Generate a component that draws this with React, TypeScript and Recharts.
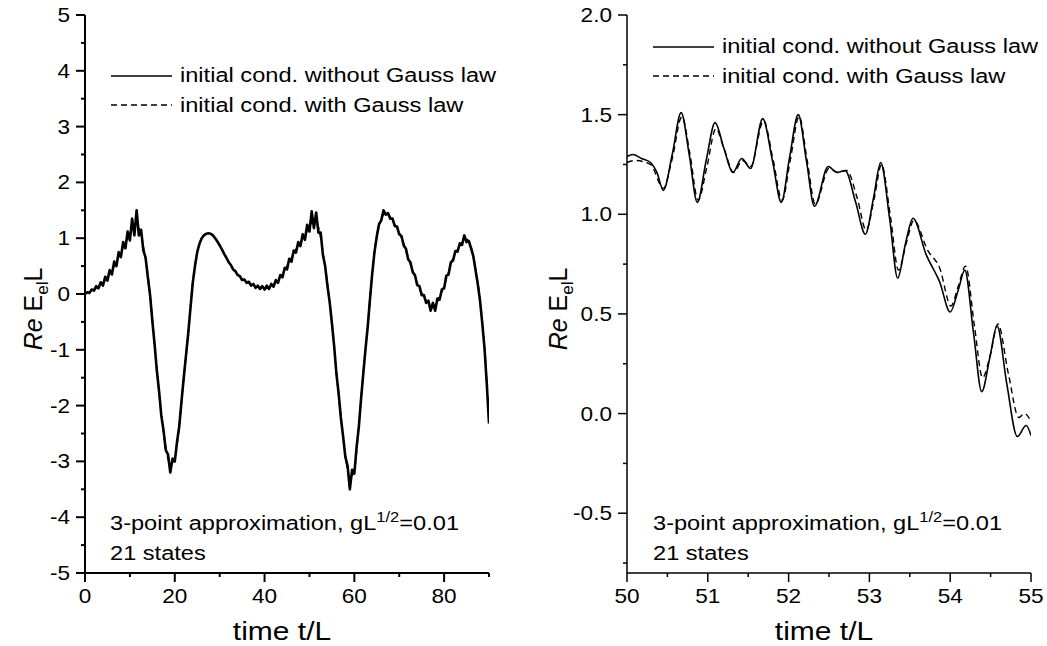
import React from 'react';
import { LineChart, Line, XAxis, YAxis, Legend } from 'recharts';

const FONT = '"Liberation Sans", Arial, Helvetica, sans-serif';

const NAME_NO_GAUSS = 'initial cond. without Gauss law';
const NAME_GAUSS = 'initial cond. with Gauss law';

// ---------- Left panel data (t = 0..90) ----------
const leftStepNoGauss = 0.5;
const leftNoGauss = [
  0.00, 0.03, 0.02, 0.08, 0.06, 0.14, 0.10, 0.21, 0.15, 0.31,
  0.24, 0.43, 0.35, 0.58, 0.50, 0.75, 0.66, 0.93, 0.82, 1.12,
  0.96, 1.35, 1.05, 1.50, 1.05, 1.15, 0.78, 0.65, 0.30, -0.02,
  -0.48, -0.90, -1.37, -1.74, -2.18, -2.45, -2.80, -2.88, -3.20, -2.95,
  -3.00, -2.65, -2.37, -1.92, -1.50, -1.10, -0.70, -0.25, 0.20, 0.50,
  0.75, 0.90, 1.00, 1.05, 1.08, 1.09, 1.08, 1.05, 1.00, 0.94,
  0.87, 0.80, 0.72, 0.65, 0.57, 0.52, 0.44, 0.41, 0.34, 0.32,
  0.25, 0.26, 0.20, 0.22, 0.15, 0.18, 0.11, 0.15, 0.09, 0.14,
  0.08, 0.15, 0.09, 0.18, 0.13, 0.25, 0.20, 0.34, 0.30, 0.47,
  0.44, 0.63, 0.58, 0.78, 0.74, 0.93, 0.86, 1.07, 0.97, 1.24,
  1.12, 1.48, 1.18, 1.46, 1.10, 1.10, 0.70, 0.50, 0.15, -0.14,
  -0.52, -0.93, -1.42, -1.78, -2.22, -2.55, -2.92, -3.08, -3.50, -3.15,
  -3.22, -2.75, -2.38, -1.88, -1.42, -0.98, -0.57, -0.08, 0.38, 0.76,
  1.03, 1.25, 1.32, 1.50, 1.42, 1.45, 1.35, 1.35, 1.22, 1.21,
  1.07, 1.04, 0.87, 0.81, 0.62, 0.57, 0.39, 0.34, 0.16, 0.14,
  -0.02, -0.02, -0.16, -0.12, -0.30, -0.16, -0.30, -0.08, -0.10, 0.08,
  0.10, 0.33, 0.35, 0.57, 0.60, 0.77, 0.76, 0.91, 0.88, 1.05,
  0.93, 0.95, 0.82, 0.68, 0.43, 0.18, -0.12, -0.52, -0.97, -1.60,
  -2.32,
];
const leftStepGauss = 1;
const leftGauss = [
  0, 0.03, 0.08, 0.13, 0.2, 0.3, 0.42, 0.58, 0.75, 0.92,
  1.08, 1.2, 1.18, 0.85, 0.35, -0.45, -1.35, -2.15, -2.75, -3.05,
  -2.95, -2.35, -1.5, -0.7, 0.2, 0.75, 1.0, 1.08, 1.08, 1.0,
  0.88, 0.72, 0.58, 0.45, 0.35, 0.27, 0.22, 0.17, 0.13, 0.11,
  0.1, 0.12, 0.17, 0.25, 0.35, 0.5, 0.65, 0.8, 0.92, 1.05,
  1.22, 1.3, 1.2, 0.75, 0.2, -0.5, -1.4, -2.2, -2.9, -3.3,
  -3.15, -2.35, -1.4, -0.55, 0.4, 1.05, 1.35, 1.45, 1.38, 1.25,
  1.1, 0.9, 0.65, 0.42, 0.2, 0.02, -0.12, -0.22, -0.2, -0.05,
  0.15, 0.4, 0.65, 0.8, 0.92, 0.98, 0.85, 0.45, -0.1, -0.95,
  -2.3,
];
const leftXTicks = [0, 10, 20, 30, 40, 50, 60, 70, 80, 90];
const leftXMajor = [0, 20, 40, 60, 80];
const leftYTicks = [-5, -4.5, -4, -3.5, -3, -2.5, -2, -1.5, -1, -0.5, 0, 0.5, 1, 1.5, 2, 2.5, 3, 3.5, 4, 4.5, 5];
const leftYMajor = [-5, -4, -3, -2, -1, 0, 1, 2, 3, 4, 5];

// ---------- Right panel data (t = 50..55) ----------
const rightNoGaussT = [
  50.0, 50.07, 50.18, 50.29, 50.37, 50.45, 50.56, 50.67, 50.77, 50.87,
  50.98, 51.09, 51.2, 51.31, 51.42, 51.53, 51.68, 51.8, 51.91, 52.01,
  52.12, 52.22, 52.32, 52.49, 52.6, 52.7, 52.83, 52.95, 53.05, 53.14,
  53.25, 53.35, 53.45, 53.54, 53.7, 53.87, 54.0, 54.1, 54.18, 54.29,
  54.39, 54.49, 54.58, 54.7, 54.83, 54.94, 55.0,
];
const rightNoGaussV = [
  1.29, 1.30, 1.28, 1.26, 1.21, 1.12, 1.30, 1.51, 1.30, 1.06,
  1.27, 1.46, 1.33, 1.21, 1.28, 1.23, 1.48, 1.27, 1.06, 1.28,
  1.50, 1.27, 1.04, 1.24, 1.21, 1.22, 1.06, 0.90, 1.08, 1.26,
  0.98, 0.68, 0.86, 0.98, 0.80, 0.66, 0.51, 0.62, 0.72, 0.40,
  0.11, 0.28, 0.44, 0.15, -0.115, -0.06, -0.11,
];
const rightGaussT = [
  50.0, 50.1, 50.29, 50.45, 50.56, 50.68, 50.78, 50.88, 50.99, 51.1,
  51.2, 51.32, 51.43, 51.53, 51.69, 51.81, 51.92, 52.02, 52.13, 52.23,
  52.33, 52.5, 52.61, 52.72, 52.85, 52.96, 53.06, 53.15, 53.26, 53.36,
  53.46, 53.55, 53.72, 53.87, 54.01, 54.1, 54.19, 54.3, 54.4, 54.5,
  54.59, 54.72, 54.85, 54.92, 55.0,
];
const rightGaussV = [
  1.26, 1.27, 1.25, 1.13, 1.28, 1.49, 1.30, 1.07, 1.24, 1.43,
  1.33, 1.21, 1.27, 1.24, 1.47, 1.27, 1.07, 1.27, 1.49, 1.27,
  1.05, 1.23, 1.21, 1.22, 1.08, 0.92, 1.08, 1.25, 0.99, 0.72,
  0.86, 0.97, 0.82, 0.73, 0.54, 0.64, 0.74, 0.44, 0.18, 0.30,
  0.45, 0.20, -0.02, 0.00, -0.04,
];
const rightXTicks = [50, 50.5, 51, 51.5, 52, 52.5, 53, 53.5, 54, 54.5, 55];
const rightXMajor = [50, 51, 52, 53, 54, 55];
const rightYTicks = [-0.75, -0.5, -0.25, 0, 0.25, 0.5, 0.75, 1, 1.25, 1.5, 1.75, 2];
const rightYMajor = [-0.5, 0, 0.5, 1, 1.5, 2];

const leftSolidData = leftNoGauss.map((v, i) => ({ t: i * leftStepNoGauss, v }));
const leftDashData = leftGauss.map((v, i) => ({ t: i * leftStepGauss, v }));
const rightSolidData = rightNoGaussT.map((t, i) => ({ t, v: rightNoGaussV[i] }));
const rightDashData = rightGaussT.map((t, i) => ({ t, v: rightGaussV[i] }));

const isIn = (arr: number[], v: number) => arr.some((m) => Math.abs(m - v) < 1e-9);

const makeXTick = (majors: number[], fmt: (v: number) => string, sw: number) => (props: any) => {
  const { x, y, payload } = props;
  const major = isIn(majors, payload.value);
  return (
    <g>
      <line x1={x} y1={y} x2={x} y2={y + (major ? 9 : 4)} stroke="#000" strokeWidth={sw} />
      {major && (
        <text transform={`translate(${x},${y + 30}) scale(1.13,1)`} textAnchor="middle" fontSize={20} fontFamily={FONT} fill="#000">
          {fmt(payload.value)}
        </text>
      )}
    </g>
  );
};

const makeYTick = (majors: number[], fmt: (v: number) => string, sw: number) => (props: any) => {
  const { x, y, payload } = props;
  const major = isIn(majors, payload.value);
  return (
    <g>
      <line x1={x} y1={y} x2={x - (major ? 9 : 4)} y2={y} stroke="#000" strokeWidth={sw} />
      {major && (
        <text transform={`translate(${x - 15},${y + 7}) scale(1.13,1)`} textAnchor="end" fontSize={20} fontFamily={FONT} fill="#000">
          {fmt(payload.value)}
        </text>
      )}
    </g>
  );
};

const XTitle = (props: any) => {
  const vb = props.viewBox;
  return (
    <text transform={`translate(${vb.x + vb.width / 2 - 5},${vb.y + 67}) scale(1.2,1)`} textAnchor="middle" fontSize={25} fontFamily={FONT} fill="#000">
      time t/L
    </text>
  );
};

const makeYTitle = (bx: number) => (props: any) => {
  const vb = props.viewBox;
  return (
    <text transform={`translate(${vb.x + bx},${vb.y + vb.height / 2 + 15}) rotate(-90)`} textAnchor="middle" fontSize={25} fontFamily={FONT} fill="#000">
      <tspan fontStyle="italic">Re</tspan>
      <tspan>{' E'}</tspan>
      <tspan fontSize={17} dy={6}>el</tspan>
      <tspan dy={-6}>L</tspan>
    </text>
  );
};

const legendOrder = [NAME_NO_GAUSS, NAME_GAUSS];
const LegendContent = (props: any) => {
  const items = [...(props.payload || [])].sort(
    (a: any, b: any) => legendOrder.indexOf(a.value) - legendOrder.indexOf(b.value)
  );
  return (
    <div style={{ fontFamily: FONT }}>
      {items.map((e: any) => (
        <div key={e.value} style={{ display: 'flex', alignItems: 'center', height: 29.5, whiteSpace: 'nowrap' }}>
          <svg width={62} height={10} style={{ display: 'block' }}>
            <line x1={0} y1={5} x2={61} y2={5} stroke="#000" strokeWidth={1.5} strokeDasharray={e.value === NAME_GAUSS ? '6 4' : undefined} />
          </svg>
          <span style={{ fontSize: 20, marginLeft: 7, display: 'inline-block', transform: 'scaleX(1.18)', transformOrigin: 'left center', color: '#000' }}>
            {e.value}
          </span>
        </div>
      ))}
    </div>
  );
};

const Annotation = ({ left }: { left: number }) => (
  <div
    style={{
      position: 'absolute',
      left,
      top: 509,
      fontFamily: FONT,
      fontSize: 20,
      lineHeight: '28px',
      color: '#000',
      whiteSpace: 'nowrap',
      transform: 'scaleX(1.18)',
      transformOrigin: 'left top',
    }}
  >
    <div>
      3-point approximation, gL
      <span style={{ fontSize: 14, position: 'relative', top: -8 }}>1/2</span>
      =0.01
    </div>
    <div>21 states</div>
  </div>
);

export default function App() {
  return (
    <div style={{ position: 'absolute', left: 0, top: 0, width: 1047, height: 646, background: '#fff', overflow: 'hidden' }}>
      {/* Left panel */}
      <div style={{ position: 'absolute', left: 0, top: 0 }}>
        <LineChart width={520} height={646} margin={{ top: 15, right: 31, bottom: 0, left: 0 }}>
          <XAxis
            dataKey="t"
            type="number"
            domain={[0, 90]}
            ticks={leftXTicks}
            interval={0}
            allowDataOverflow
            height={73}
            tickSize={0}
            tickMargin={0}
            tickLine={false}
            axisLine={{ stroke: '#000', strokeWidth: 2 }}
            tick={makeXTick(leftXMajor, (v) => String(v), 2)}
            label={{ content: XTitle }}
          />
          <YAxis
            type="number"
            domain={[-5, 5]}
            ticks={leftYTicks}
            interval={0}
            allowDataOverflow
            width={85}
            tickSize={0}
            tickMargin={0}
            tickLine={false}
            axisLine={{ stroke: '#000', strokeWidth: 2 }}
            tick={makeYTick(leftYMajor, (v) => String(v), 2)}
            label={{ content: makeYTitle(42) }}
          />
          <Legend
            layout="vertical"
            align="center"
            verticalAlign="middle"
            wrapperStyle={{ left: 111, top: 61, width: 400 }}
            content={LegendContent}
          />
          <Line
            data={leftSolidData}
            dataKey="v"
            name={NAME_NO_GAUSS}
            type="linear"
            stroke="#000"
            strokeWidth={2.6}
            strokeLinejoin="round"
            dot={false}
            activeDot={false}
            isAnimationActive={false}
          />
          <Line
            data={leftDashData}
            dataKey="v"
            name={NAME_GAUSS}
            type="monotone"
            stroke="#000"
            strokeWidth={1.5}
            strokeDasharray="6 4"
            dot={false}
            activeDot={false}
            isAnimationActive={false}
          />
        </LineChart>
        <Annotation left={110} />
      </div>

      {/* Right panel */}
      <div style={{ position: 'absolute', left: 520, top: 0 }}>
        <LineChart width={527} height={646} margin={{ top: 15, right: 16, bottom: 0, left: 0 }}>
          <XAxis
            dataKey="t"
            type="number"
            domain={[50, 55]}
            ticks={rightXTicks}
            interval={0}
            allowDataOverflow
            height={73}
            tickSize={0}
            tickMargin={0}
            tickLine={false}
            axisLine={{ stroke: '#000', strokeWidth: 1.5 }}
            tick={makeXTick(rightXMajor, (v) => String(v), 1.5)}
            label={{ content: XTitle }}
          />
          <YAxis
            type="number"
            domain={[-0.8, 2]}
            ticks={rightYTicks}
            interval={0}
            allowDataOverflow
            width={107}
            tickSize={0}
            tickMargin={0}
            tickLine={false}
            axisLine={{ stroke: '#000', strokeWidth: 1.5 }}
            tick={makeYTick(rightYMajor, (v) => v.toFixed(1), 1.5)}
            label={{ content: makeYTitle(47) }}
          />
          <Legend
            layout="vertical"
            align="center"
            verticalAlign="middle"
            wrapperStyle={{ left: 133, top: 32, width: 400 }}
            content={LegendContent}
          />
          <Line
            data={rightSolidData}
            dataKey="v"
            name={NAME_NO_GAUSS}
            type="monotone"
            stroke="#000"
            strokeWidth={1.6}
            dot={false}
            activeDot={false}
            isAnimationActive={false}
          />
          <Line
            data={rightDashData}
            dataKey="v"
            name={NAME_GAUSS}
            type="monotone"
            stroke="#000"
            strokeWidth={1.4}
            strokeDasharray="6 4"
            dot={false}
            activeDot={false}
            isAnimationActive={false}
          />
        </LineChart>
        <Annotation left={133} />
      </div>
    </div>
  );
}
